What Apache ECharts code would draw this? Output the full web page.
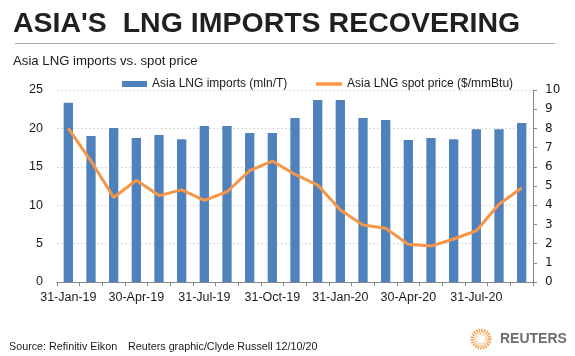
<!DOCTYPE html>
<html>
<head>
<meta charset="utf-8">
<script src="https://cdn.jsdelivr.net/npm/echarts@6/dist/echarts.min.js"></script>
<style>
html,body{margin:0;padding:0;background:#fff;}
#chart{width:575px;height:356px;}
</style>
</head>
<body>
<div id="chart"></div>
<script>
var categories = ['31-Jan-19','28-Feb-19','31-Mar-19','30-Apr-19','31-May-19','30-Jun-19','31-Jul-19','31-Aug-19','30-Sep-19','31-Oct-19','30-Nov-19','31-Dec-19','31-Jan-20','29-Feb-20','31-Mar-20','30-Apr-20','31-May-20','30-Jun-20','31-Jul-20','31-Aug-20','30-Sep-20'];
var importsMlnT = [23.35,19.0,20.05,18.75,19.15,18.6,20.3,20.3,19.4,19.4,21.35,23.7,23.7,21.35,21.1,18.5,18.75,18.6,19.9,19.9,20.7];
var spotPrice = [8.0,6.3,4.4,5.3,4.5,4.8,4.25,4.7,5.8,6.3,5.6,5.05,3.75,2.97,2.8,1.96,1.87,2.24,2.67,4.05,4.9];
var leftTicks = {min:0,max:25,interval:5};
var rightTicks = {min:0,max:10,interval:1};

var chart = echarts.init(document.getElementById('chart'), null, {renderer:'canvas'});
var axisGrey = '#868686';
var textCol = '#1a1a1a';
chart.setOption({
  animation:false,
  backgroundColor:'#ffffff',
  textStyle:{fontFamily:'Liberation Sans, Arial, sans-serif'},
  title:[
    {text:"ASIA'S  LNG IMPORTS RECOVERING", left:8, top:5,
     textStyle:{fontSize:28.5, fontWeight:'bold', color:'#231f20', fontFamily:'Liberation Sans'}},
    {text:'Asia LNG imports vs. spot price', left:8, top:50,
     textStyle:{fontSize:13.2, fontWeight:'normal', color:textCol, fontFamily:'Liberation Sans'}}
  ],
  legend:[
    {data:[{name:'Asia LNG imports (mln/T)', icon:'rect'}], left:117, top:73, itemWidth:25, itemHeight:6,
     textStyle:{fontSize:12, color:textCol, fontFamily:'Liberation Sans'}},
    {data:[{name:'Asia LNG spot price ($/mmBtu)', icon:'roundRect', itemStyle:{color:'#f79646'}}], left:311, top:73, itemWidth:26, itemHeight:3.5,
     textStyle:{fontSize:12, color:textCol, fontFamily:'Liberation Sans'}}
  ],
  grid:{left:57, right:42, top:90, bottom:74, containLabel:false},
  xAxis:{
    type:'category', data:categories, boundaryGap:true,
    axisLine:{show:true, lineStyle:{color:axisGrey, width:1}},
    axisTick:{show:true, interval:0, length:4, lineStyle:{color:axisGrey}},
    axisLabel:{interval:2, margin:9, fontSize:12.5, color:textCol, fontFamily:'Liberation Sans'},
    splitLine:{show:false}
  },
  yAxis:[
    {type:'value', min:leftTicks.min, max:leftTicks.max, interval:leftTicks.interval, position:'left',
     axisLine:{show:false}, axisTick:{show:false},
     axisLabel:{margin:14, fontSize:12.5, color:textCol, fontFamily:'Liberation Sans'},
     splitLine:{show:true, lineStyle:{color:'#d9d9d9', type:[2,2], width:1}}},
    {type:'value', min:rightTicks.min, max:rightTicks.max, interval:rightTicks.interval, position:'right',
     axisLine:{show:true, lineStyle:{color:axisGrey, width:1}},
     axisTick:{show:true, inside:false, length:4, lineStyle:{color:axisGrey}},
     axisLabel:{margin:12, fontSize:12, color:textCol, fontFamily:'DejaVu Sans'},
     splitLine:{show:false}}
  ],
  series:[
    {name:'Asia LNG imports (mln/T)', type:'bar', data:importsMlnT, yAxisIndex:0,
     barWidth:'41%', itemStyle:{color:'#4f81bd'}},
    {name:'Asia LNG spot price ($/mmBtu)', type:'line', data:spotPrice, yAxisIndex:1,
     symbol:'none', showSymbol:false, lineStyle:{color:'#f79646', width:3}, itemStyle:{color:'#f79646'}}
  ],
  graphic:[
    {type:'line', shape:{x1:15, y1:43.5, x2:555, y2:43.5}, style:{stroke:'#a6a6a6', lineWidth:1}},
    {type:'text', left:9, top:342, style:{text:'Source: Refinitiv Eikon', fontSize:10.75, fill:textCol, fontFamily:'Liberation Sans'}},
    {type:'text', left:128, top:342, style:{text:'Reuters graphic/Clyde Russell 12/10/20', fontSize:10.75, fill:textCol, fontFamily:'Liberation Sans'}},
    {type:'circle', shape:{cx:481, cy:339, r:8.5}, style:{fill:'none', stroke:'#f6a55a', lineWidth:4, lineDash:[1.5,1]}},
    {type:'circle', shape:{cx:481, cy:339, r:5}, style:{fill:'none', stroke:'#fbc58e', lineWidth:2, lineDash:[1,1]}},
    {type:'text', left:500, top:332, style:{text:'REUTERS', fontSize:14, fontWeight:'bold', fill:'#6d6e70', fontFamily:'Liberation Sans'}}
  ]
});
</script>
</body>
</html>
